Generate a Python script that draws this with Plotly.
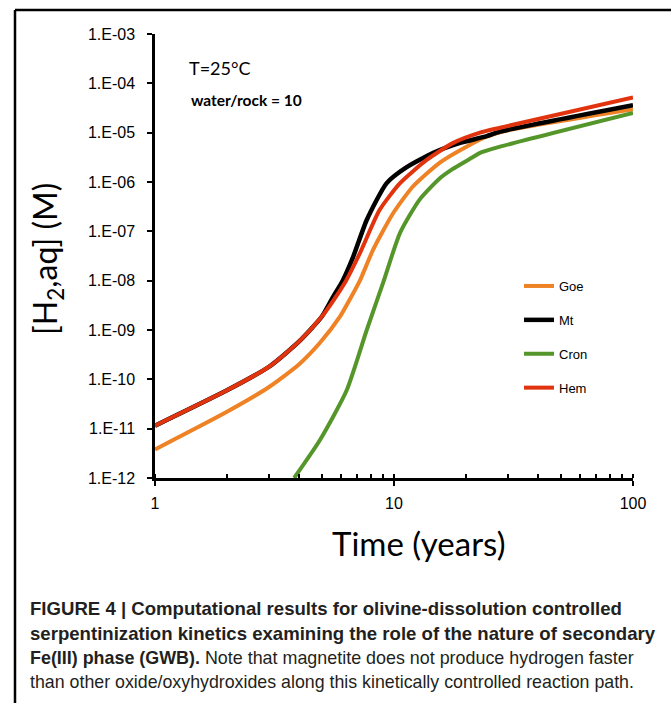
import plotly.graph_objects as go

# ---- data ----
goe_t = [1, 2, 3, 4, 4.9, 5.94, 6.54, 7.2, 8.17, 9.9, 12.0, 15.6, 20.1, 24.4, 30, 100]
goe_h2 = [3.8e-12, 2.2e-11, 7.0e-11, 2.0e-10, 5.5e-10, 1.86e-9, 4.2e-9, 1.0e-8, 4.2e-8,
          2.3e-7, 8.1e-7, 2.5e-6, 5.2e-6, 8.3e-6, 1.12e-5, 3.0e-5]

mt_t = [1, 2, 3, 4, 5, 5.56, 6.1, 6.74, 7.69, 9.32, 11.3, 14.6, 18.9, 24.4, 27.8, 100]
mt_h2 = [1.15e-11, 6.0e-11, 1.8e-10, 5.8e-10, 1.9e-9, 4.7e-9, 1.0e-8, 3.0e-8, 1.7e-7,
         9.5e-7, 2.0e-6, 3.9e-6, 6.2e-6, 8.5e-6, 1.05e-5, 3.6e-5]

cron_t = [3.82, 4.9, 6.34, 7.69, 9.0, 10.6, 12.8, 15.6, 17.5, 21.4, 22.9, 27.8, 100]
cron_h2 = [1.0e-12, 5.9e-12, 6.0e-11, 1.0e-9, 9.0e-9, 9.3e-8, 4.4e-7, 1.2e-6, 1.8e-6,
           3.2e-6, 3.9e-6, 5.2e-6, 2.5e-5]

hem_t = [1, 2, 3, 4, 5, 5.6, 6.3, 7.2, 8.7, 10.6, 13.7, 17.7, 22.9, 27.8, 100]
hem_h2 = [1.15e-11, 6.0e-11, 1.8e-10, 5.8e-10, 1.9e-9, 4.1e-9, 1.0e-8, 3.6e-8, 2.7e-7,
          9.5e-7, 2.8e-6, 6.2e-6, 1.0e-5, 1.26e-5, 5.2e-5]

series = [
    ("Goe", goe_t, goe_h2, "#EE8224", 4),
    ("Mt", mt_t, mt_h2, "#000000", 4.5),
    ("Cron", cron_t, cron_h2, "#55962B", 4),
    ("Hem", hem_t, hem_h2, "#E2330F", 4),
]

y_tickvals = [1e-12, 1e-11, 1e-10, 1e-9, 1e-8, 1e-7, 1e-6, 1e-5, 1e-4, 1e-3]
y_ticktext = ["1.E-12", "1.E-11", "1.E-10", "1.E-09", "1.E-08", "1.E-07",
              "1.E-06", "1.E-05", "1.E-04", "1.E-03"]

caption_lines = [
    "<b>FIGURE 4 | Computational results for olivine-dissolution controlled</b>",
    "<b>serpentinization kinetics examining the role of the nature of secondary</b>",
    "<b>Fe(III) phase (GWB).</b> Note that magnetite does not produce hydrogen faster",
    "than other oxide/oxyhydroxides along this kinetically controlled reaction path.",
]
caption_sizes = [18.6, 18.6, 17.9, 17.8]

# ---- figure ----
W, H = 671, 703
L, R, T, B = 155, 38, 34, 225
pw, ph = W - L - R, H - T - B

def px(xpix):
    return (xpix - L) / pw

def py(ypix):
    return (H - B - ypix) / ph

fig = go.Figure()
for name, t, h, col, w in series:
    fig.add_trace(go.Scatter(x=t, y=h, mode="lines", name=name, legendgroup=name,
                             line=dict(color=col, width=w, shape="spline", smoothing=0.6)))

axis_font = dict(family="Liberation Sans, Arial", size=16, color="black")

fig.update_layout(
    width=W, height=H,
    margin=dict(l=L, r=R, t=T, b=B),
    paper_bgcolor="white", plot_bgcolor="white",
    showlegend=True,
    legend=dict(x=px(519), y=py(271), xanchor="left", yanchor="top",
                font=dict(family="Liberation Sans, Arial", size=13, color="black"),
                traceorder="grouped", tracegroupgap=14, bgcolor="rgba(0,0,0,0)",
                itemwidth=30),
    xaxis=dict(type="log", range=[0, 2], dtick=1, showgrid=False, zeroline=False,
               showline=True, linecolor="black", linewidth=2.5,
               ticks="outside", ticklen=5, tickwidth=2, tickcolor="black",
               ticklabelstandoff=4, tickfont=axis_font,
               minor=dict(ticks="inside", ticklen=4, tickwidth=1.5, tickcolor="black",
                          dtick="D1", showgrid=False)),
    yaxis=dict(type="log", range=[-12, -3], tickvals=y_tickvals, ticktext=y_ticktext,
               showgrid=False, zeroline=False,
               showline=True, linecolor="black", linewidth=2.5,
               ticks="outside", ticklen=5, tickwidth=2, tickcolor="black",
               ticklabelstandoff=9, tickfont=axis_font),
    xaxis2=dict(type="log", range=[0, 2], dtick=1, overlaying="x", anchor="y",
                showgrid=False, zeroline=False, showline=False, showticklabels=False,
                ticks="inside", ticklen=5, tickwidth=2, tickcolor="black"),
    yaxis2=dict(type="log", range=[-12, -3], tickvals=y_tickvals, overlaying="y",
                anchor="x", side="left",
                showgrid=False, zeroline=False, showline=False, showticklabels=False,
                ticks="inside", ticklen=5, tickwidth=2, tickcolor="black"),
)

annotations = [
    dict(x=px(47), y=py(259), xref="paper", yref="paper", text="[H<sub>2</sub>,aq] (M)",
         textangle=-90, showarrow=False, xanchor="center", yanchor="middle",
         font=dict(family="Lato", size=32, color="black")),
    dict(x=px(418), y=py(543), xref="paper", yref="paper", text="Time (years)",
         showarrow=False, xanchor="center", yanchor="middle",
         font=dict(family="Lato", size=33, color="black")),
    dict(x=px(187), y=py(68), xref="paper", yref="paper", text="T=25°C",
         showarrow=False, xanchor="left", yanchor="middle",
         font=dict(family="Lato", size=18, color="black")),
    dict(x=px(189), y=py(100), xref="paper", yref="paper", text="<b>water/rock = 10</b>",
         showarrow=False, xanchor="left", yanchor="middle",
         font=dict(family="Lato", size=15.5, color="black")),
]
cap_y = [608, 633, 658, 682]
for txt, yy, sz in zip(caption_lines, cap_y, caption_sizes):
    annotations.append(dict(x=px(28), y=py(yy), xref="paper", yref="paper", text=txt,
                            showarrow=False, xanchor="left", yanchor="middle", align="left",
                            font=dict(family="Liberation Sans, Arial", size=sz, color="#231F20")))
fig.update_layout(annotations=annotations)

fig.update_layout(shapes=[
    dict(type="line", xref="paper", yref="paper", x0=px(15), x1=px(W + 5), y0=py(10), y1=py(10),
         line=dict(color="black", width=2.5)),
    dict(type="line", xref="paper", yref="paper", x0=px(15), x1=px(15), y0=py(10), y1=py(H + 5),
         line=dict(color="black", width=2.5)),
])

fig.write_html("out.html", config={"displayModeBar": False},
               post_script="document.body.style.margin='0';")
